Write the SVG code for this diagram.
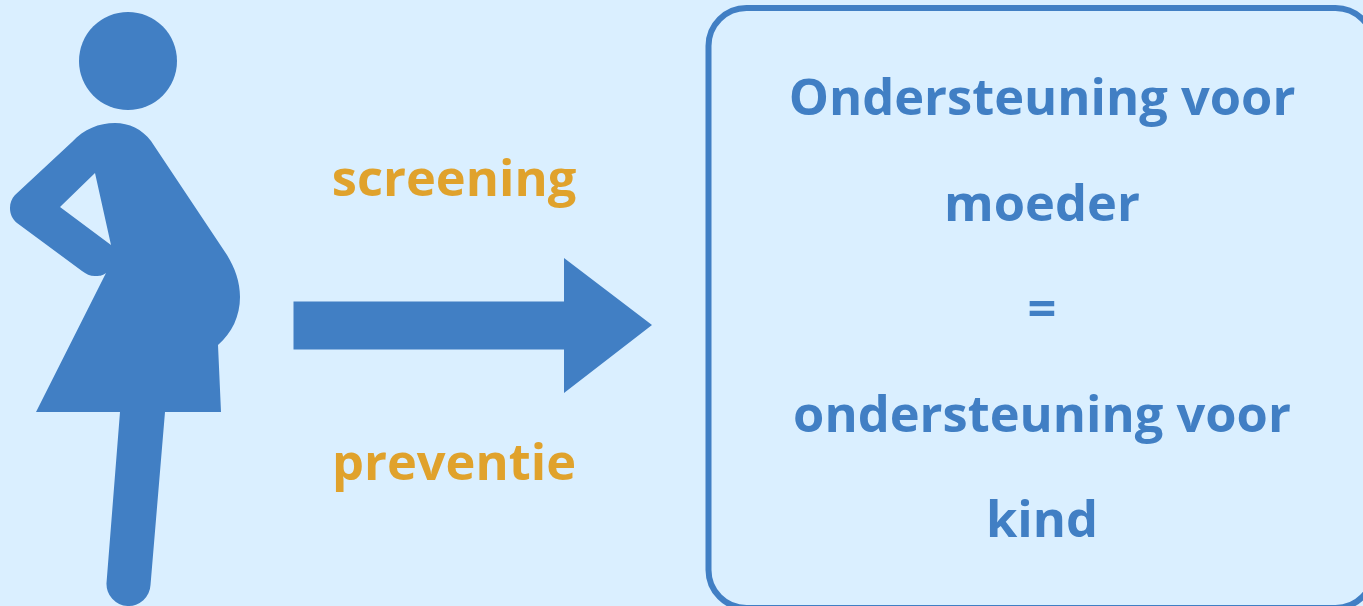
<svg xmlns="http://www.w3.org/2000/svg" width="1363" height="606" viewBox="0 0 1363 606">
<style>
.b{fill:#417fc4}
.t{font-family:"Open Sans","Noto Sans",sans-serif;font-weight:700;text-anchor:middle;font-size:50.6px}
.blue{fill:#417fc4}
.o{fill:#e0a22c}
</style>
<rect width="1363" height="606" fill="#daefff"/>
<g id="woman">
<circle class="b" cx="128" cy="61" r="49"/>
<path class="b" d="M115 123C129 123 142 129 151 141L227 255C235 268 240 282 240 297C240 316 232 333 218 345L221 412H165L150.500 585A22 22 0 0 1 106.500 583L120 412H36L106 273C102 276 99 276 95 276C90 276 86 274 82 271L17 223C8 216 8 202 15 195L72 142C84 129 99 123 115 123ZM95 173L60 207L111 245Z" fill-rule="evenodd"/>
</g>
<g id="connectors">
<path class="b" d="M293.500 301.500H564V258L652 325L564 393V349.500H293.500Z"/>
</g>
<g id="label-screening"><text class="t o" x="454" y="196">screening</text></g>
<g id="label-preventie"><text class="t o" x="454" y="480">preventie</text></g>
<g id="box">
<rect x="708.500" y="8" width="665" height="600" rx="38" fill="none" stroke="#417fc4" stroke-width="6"/>
<text class="t blue" x="1042" y="115">Ondersteuning voor</text>
<text class="t blue" x="1042" y="220.500">moeder</text>
<text class="t blue" x="1042" y="326">=</text>
<text class="t blue" x="1042" y="431.500">ondersteuning voor</text>
<text class="t blue" x="1042" y="536.500">kind</text>
</g>
</svg>
